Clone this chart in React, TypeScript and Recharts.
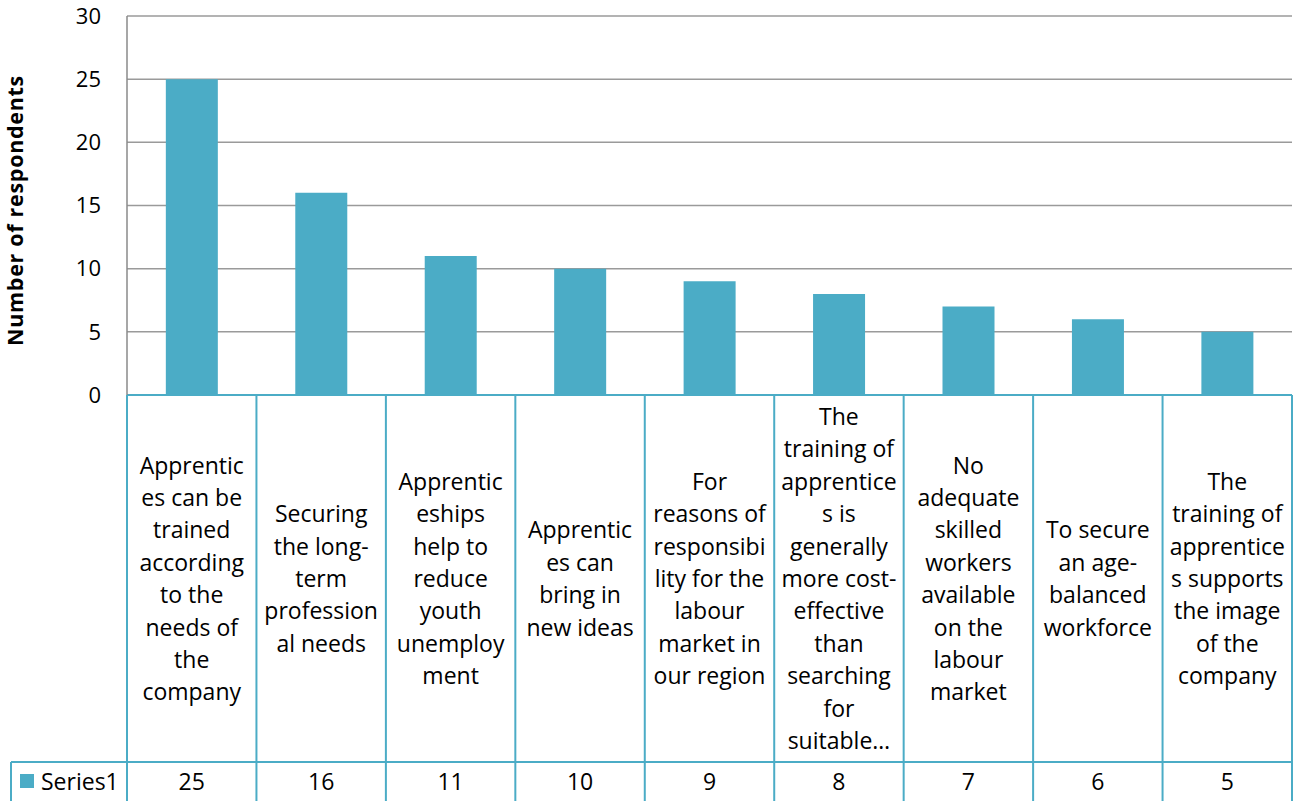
import React from 'react';
import { BarChart, Bar, XAxis, YAxis, CartesianGrid } from 'recharts';

// Category labels, already broken into the lines shown in the data table
const categoryLines: string[][] = [
  ['Apprentic', 'es can be', 'trained', 'according', 'to the', 'needs of', 'the', 'company'],
  ['Securing', 'the long-', 'term', 'profession', 'al needs'],
  ['Apprentic', 'eships', 'help to', 'reduce', 'youth', 'unemploy', 'ment'],
  ['Apprentic', 'es can', 'bring in', 'new ideas'],
  ['For', 'reasons of', 'responsibi', 'lity for the', 'labour', 'market in', 'our region'],
  ['The', 'training of', 'apprentice', 's is', 'generally', 'more cost-', 'effective', 'than', 'searching', 'for', 'suitable…'],
  ['No', 'adequate', 'skilled', 'workers', 'available', 'on the', 'labour', 'market'],
  ['To secure', 'an age-', 'balanced', 'workforce'],
  ['The', 'training of', 'apprentice', 's supports', 'the image', 'of the', 'company'],
];
const seriesName = 'Series1';
const seriesValues = [25, 16, 11, 10, 9, 8, 7, 6, 5];
const yTicks = [0, 5, 10, 15, 20, 25, 30];
const yTitle = 'Number of respondents';

const data = categoryLines.map((lines, i) => ({
  name: lines.join(' '),
  value: seriesValues[i],
}));

// Layout (the chart is pinned to the page origin)
const WIDTH = 1293;
const HEIGHT = 801;
const MARGIN = { top: 16, right: 1, left: 0, bottom: 0 };
const Y_AXIS_W = 127;
const X_AXIS_H = 406;
const BAND = (WIDTH - MARGIN.left - MARGIN.right - Y_AXIS_W) / categoryLines.length;

const FONT = '"Open Sans", sans-serif';
const TEXT_SIZE = 23;
const LINE_PITCH = 32.4;
const TEAL = '#4BACC6';
const TABLE_STROKE = 2;

// Offsets within the data table, measured from the top of the x axis
const CAT_CENTER = 183;
const ROW_SPLIT = 367;
const VALUE_CENTER = 386;
const TABLE_BOTTOM = X_AXIS_H;

const TableTick = (props: any) => {
  const { x, y, index } = props;
  const half = BAND / 2;
  const lines = categoryLines[index] || [];
  const n = lines.length;
  const left = x - half;
  const right = x + half;
  return (
    <g>
      {lines.map((ln, i) => (
        <text
          key={i}
          x={x}
          y={y + CAT_CENTER + (i - (n - 1) / 2) * LINE_PITCH}
          textAnchor="middle"
          dominantBaseline="central"
          fontFamily={FONT}
          fontSize={TEXT_SIZE}
          fill="#000"
        >
          {ln}
        </text>
      ))}
      <text
        x={x}
        y={y + VALUE_CENTER}
        textAnchor="middle"
        dominantBaseline="central"
        fontFamily={FONT}
        fontSize={TEXT_SIZE}
        fill="#000"
      >
        {seriesValues[index]}
      </text>
      <line x1={left} x2={right} y1={y + ROW_SPLIT} y2={y + ROW_SPLIT} stroke={TEAL} strokeWidth={TABLE_STROKE} />
      <line x1={right} x2={right} y1={y} y2={y + TABLE_BOTTOM} stroke={TEAL} strokeWidth={TABLE_STROKE} />
      {index === 0 && (
        <g>
          <line x1={left} x2={left} y1={y} y2={y + TABLE_BOTTOM} stroke={TEAL} strokeWidth={TABLE_STROKE} />
          <line x1={11} x2={left} y1={y + ROW_SPLIT} y2={y + ROW_SPLIT} stroke={TEAL} strokeWidth={TABLE_STROKE} />
          <line x1={11} x2={11} y1={y + ROW_SPLIT} y2={y + TABLE_BOTTOM} stroke={TEAL} strokeWidth={TABLE_STROKE} />
          <rect x={20} y={y + VALUE_CENTER - 7} width={14} height={14} fill={TEAL} />
          <text
            x={41}
            y={y + VALUE_CENTER}
            dominantBaseline="central"
            fontFamily={FONT}
            fontSize={TEXT_SIZE}
            fill="#000"
          >
            {seriesName}
          </text>
        </g>
      )}
    </g>
  );
};

const YTitle = (props: any) => {
  const vb = props.viewBox || { x: 0, y: MARGIN.top, width: Y_AXIS_W, height: 379 };
  const cx = 23;
  const cy = vb.y + vb.height / 2 + 5;
  return (
    <text
      transform={`translate(${cx},${cy}) rotate(-90)`}
      textAnchor="middle"
      fontFamily={FONT}
      fontSize={21.5}
      letterSpacing={0.7}
      fontWeight="bold"
      fill="#000"
    >
      {yTitle}
    </text>
  );
};

export default function App() {
  return (
    <div style={{ position: 'absolute', left: 0, top: 0, width: WIDTH, height: HEIGHT, fontFamily: FONT }}>
      <BarChart
        width={WIDTH}
        height={HEIGHT}
        data={data}
        margin={MARGIN}
        barCategoryGap="30%"
      >
        <CartesianGrid vertical={false} stroke="#9a9a9a" strokeWidth={1.5} />
        <XAxis
          dataKey="name"
          height={X_AXIS_H}
          interval={0}
          tickLine={false}
          tickSize={0}
          tickMargin={0}
          axisLine={{ stroke: TEAL, strokeWidth: TABLE_STROKE }}
          tick={<TableTick />}
        />
        <YAxis
          width={Y_AXIS_W}
          domain={[0, 30]}
          ticks={yTicks}
          interval={0}
          tickLine={false}
          tickSize={0}
          tickMargin={26}
          axisLine={{ stroke: '#8a8a8a', strokeWidth: 1.5 }}
          tick={{ fontFamily: FONT, fontSize: 22, fill: '#000' }}
          label={{ content: <YTitle /> }}
        />
        <Bar dataKey="value" name={seriesName} fill={TEAL} isAnimationActive={false} />
      </BarChart>
    </div>
  );
}
